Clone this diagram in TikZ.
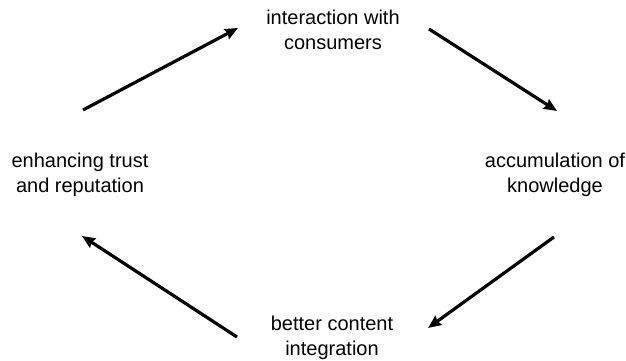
\documentclass[tikz,border=0pt]{standalone}
\usepackage{fontspec}
\setmainfont{Liberation Sans}
\usetikzlibrary{arrows.meta}

\tikzset{
    stage/.style={align=center, inner sep=0pt, font=\fontsize{20}{24.5}\selectfont},
    cyc/.style={-{Stealth[length=13pt,width=11pt,inset=1.5pt]}, line width=3.2pt}
}

\begin{document}
\begin{tikzpicture}[x=1pt,y=-1pt]
    \useasboundingbox (0,0) rectangle (626,361);
    % Stages
    \node[stage] (inter) at (333,30) {interaction with\\consumers};
    \node[stage] (know) at (555,175) {accumulation of\\knowledge};
    \node[stage] (integ) at (332,338) {better content\\integration};
    \node[stage] (trust) at (80,175) {enhancing trust\\and reputation};
    % Arrow ends
    \coordinate (a1) at (83,110);
    \coordinate (b1) at (238,28);
    \coordinate (a2) at (429,29);
    \coordinate (b2) at (557,111);
    \coordinate (a3) at (554,237);
    \coordinate (b3) at (428,328);
    \coordinate (a4) at (237,337);
    \coordinate (b4) at (82,236);
    % Cycle
    \draw[cyc] (a1) -- (b1);
    \draw[cyc] (a2) -- (b2);
    \draw[cyc] (a3) -- (b3);
    \draw[cyc] (a4) -- (b4);
\end{tikzpicture}
\end{document}
